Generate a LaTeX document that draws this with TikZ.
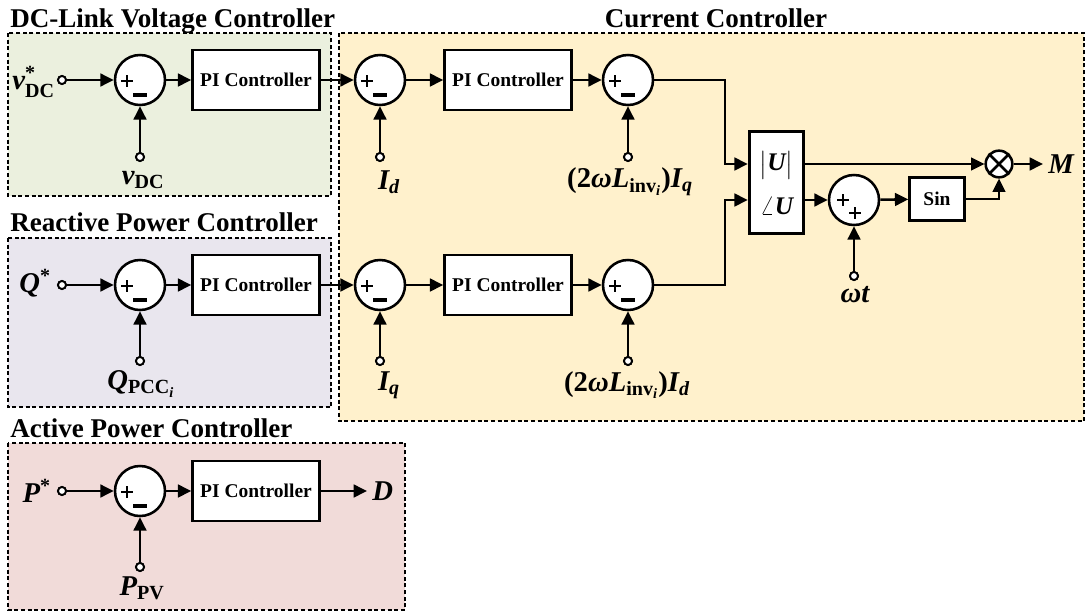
\documentclass[tikz,border=0pt]{standalone}
\usepackage{fontspec}
\usepackage{amsmath}
\setmainfont{Liberation Serif}
\usetikzlibrary{arrows.meta}
\definecolor{cgreen}{RGB}{235,240,222}
\definecolor{cyellow}{RGB}{255,241,204}
\definecolor{cpurple}{RGB}{233,230,238}
\definecolor{cred}{RGB}{241,219,217}
\tikzset{
  sumc/.style={circle, draw, line width=1.9pt, fill=white, minimum size=37.5pt, inner sep=0pt},
  pibox/.style={draw, line width=2.1pt, fill=white, minimum width=95pt, minimum height=45pt, inner sep=0pt, font=\fontsize{14.6}{16}\selectfont\bfseries},
  term/.style={circle, draw, line width=1.4pt, fill=white, minimum size=6pt, inner sep=0pt},
  sig/.style={line width=1.9pt, -{Triangle[length=10pt,width=9.5pt]}},
  lbl/.style={inner sep=0pt, font=\fontsize{21.5}{23}\selectfont\bfseries\itshape},
  ttl/.style={inner sep=0pt, font=\fontsize{20.3}{22}\selectfont\bfseries},
  area/.style={line width=0.8pt, dash pattern=on 3pt off 2pt},
  sgn/.style={line width=1pt},
  msgn/.style={line width=2.3pt},
}
\newcommand{\plmi}[1]{%
  \draw[sgn] ([shift={(-19,1)}]#1.center) -- ([shift={(-7,1)}]#1.center);
  \draw[sgn] ([shift={(-13,-5)}]#1.center) -- ([shift={(-13,7)}]#1.center);
  \draw[msgn] ([shift={(-7,15)}]#1.center) -- ([shift={(7,15)}]#1.center);
}
\begin{document}
\begin{tikzpicture}[x=0.75pt,y=-0.75pt]
\useasboundingbox (0,0) rectangle (1085,614);
% areas
\draw[area, fill=cgreen] (8,33) rectangle (331,196);
\draw[area, fill=cyellow] (339,33) rectangle (1084,421);
\draw[area, fill=cpurple] (8,238) rectangle (331,407);
\draw[area, fill=cred] (8,443) rectangle (405,610);
% titles
\node[ttl, anchor=base west] (t1) at (10,27) {DC-Link Voltage Controller};
\node[ttl, anchor=base] (t2) at (716,27) {Current Controller};
\node[ttl, anchor=base west] (t3) at (10,231) {Reactive Power Controller};
\node[ttl, anchor=base west] (t4) at (10,437) {Active Power Controller};
% row A
\node[sumc] (sA) at (140,80) {};
\node[pibox] (piA) at (256,80) {PI Controller};
\node[sumc] (sB) at (380,80) {};
\node[pibox] (piB) at (508,80) {PI Controller};
\node[sumc] (sC) at (628,80) {};
\node[term] (inA) at (62,80) {};
\node[term] (fbA) at (140,157) {};
\node[term] (fbB) at (380,157) {};
\node[term] (fbC) at (628,157) {};
% row B
\node[sumc] (sD) at (140,285) {};
\node[pibox] (piD) at (256,285) {PI Controller};
\node[sumc] (sE) at (380,285) {};
\node[pibox] (piE) at (508,285) {PI Controller};
\node[sumc] (sF) at (628,285) {};
\node[term] (inB) at (62,285) {};
\node[term] (fbD) at (140,361) {};
\node[term] (fbE) at (380,361) {};
\node[term] (fbF) at (628,361) {};
% row C
\node[sumc] (sG) at (140,491) {};
\node[pibox] (piG) at (256,491) {PI Controller};
\node[term] (inC) at (62,491) {};
\node[term] (fbG) at (140,567) {};
\coordinate (Dend) at (367,491);
% right part
\node[draw, line width=2.1pt, fill=white, minimum width=41pt, minimum height=76pt, inner sep=0pt] (U) at (776.5,182.5) {};
\node[inner sep=0pt, font=\fontsize{19}{20}\selectfont] (Umag) at (776.5,165) {$\big|\text{\bfseries\itshape U}\big|$};
\node[inner sep=0pt, font=\fontsize{19}{20}\selectfont] (Uang) at (776.5,206) {$\angle\text{\bfseries\itshape U}$};
\coordinate (jA) at (725,164);
\coordinate (jB) at (725,200);
\node[sumc] (sH) at (854,200) {};
\node[term] (fbH) at (854,276) {};
\node[draw, line width=2.1pt, fill=white, minimum width=41pt, minimum height=32pt, inner sep=0pt, font=\fontsize{14.6}{16}\selectfont\bfseries] (sinb) at (937,199) {Sin};
\node[circle, draw, line width=1.9pt, fill=white, minimum size=20pt, inner sep=0pt] (mul) at (999,164) {};
\draw[line width=1.9pt] (mul.north east) -- (mul.south west) (mul.north west) -- (mul.south east);
\coordinate (Mend) at (1043,164);
% signs
\plmi{sA}\plmi{sB}\plmi{sC}\plmi{sD}\plmi{sE}\plmi{sF}\plmi{sG}
\draw[sgn] ([shift={(-17,0)}]sH.center) -- ([shift={(-5,0)}]sH.center);
\draw[sgn] ([shift={(-11,-6)}]sH.center) -- ([shift={(-11,6)}]sH.center);
\draw[line width=1.3pt] ([shift={(-5,13)}]sH.center) -- ([shift={(7,13)}]sH.center);
\draw[line width=1.3pt] ([shift={(1,7)}]sH.center) -- ([shift={(1,19)}]sH.center);
% connectors
\draw[sig] (inA) -- (sA);
\draw[sig] (sA) -- (piA);
\draw[sig] (piA) -- (sB);
\draw[sig] (sB) -- (piB);
\draw[sig] (piB) -- (sC);
\draw[sig] (fbA) -- (sA);
\draw[sig] (fbB) -- (sB);
\draw[sig] (fbC) -- (sC);
\draw[sig] (inB) -- (sD);
\draw[sig] (sD) -- (piD);
\draw[sig] (piD) -- (sE);
\draw[sig] (sE) -- (piE);
\draw[sig] (piE) -- (sF);
\draw[sig] (fbD) -- (sD);
\draw[sig] (fbE) -- (sE);
\draw[sig] (fbF) -- (sF);
\draw[sig] (inC) -- (sG);
\draw[sig] (sG) -- (piG);
\draw[sig] (fbG) -- (sG);
\draw[sig] (piG) -- (Dend);
\draw[sig] (sC.east) -| (jA) -- (jA -| U.west);
\draw[sig] (sF.east) -| (jB) -- (jB -| U.west);
\draw[sig] (jA -| U.east) -- (mul.west);
\draw[sig] (jB -| U.east) -- (sH.west);
\draw[sig] (sH) -- (sinb);
\draw[sig] (sinb.east) -| (mul.south);
\draw[sig] (fbH) -- (sH);
\draw[sig] (mul) -- (Mend);
% redraw terminals on top
\foreach \t in {inA,fbA,fbB,fbC,inB,fbD,fbE,fbF,inC,fbG,fbH}
  \draw[line width=1.4pt, fill=white] (\t) circle[radius=4];
% labels
\node[lbl, anchor=east] (lvs) at (55,82) {v$^{\text{\upshape *}}_{\text{\upshape DC}}$};
\node[lbl] (lv) at (143,180) {v$_{\text{\upshape DC}}$};
\node[lbl, anchor=east] (lqs) at (51,283) {Q$^{\text{\upshape *}}$};
\node[lbl] (lq) at (141,384) {Q$_{\text{\upshape PCC}_{\text{i}}}$};
\node[lbl, anchor=east] (lps) at (51,491) {P$^{\text{\upshape *}}$};
\node[lbl] (lp) at (142,588) {P$_{\text{\upshape PV}}$};
\node[lbl, anchor=west] (lD) at (372,491) {D};
\node[lbl] (lId) at (389,182) {I$_{\text{d}}$};
\node[lbl] (lIq) at (389,385) {I$_{\text{q}}$};
\node[lbl] (lLq) at (630,182) {\upshape(2\itshape ωL$_{\text{\upshape inv}_{\text{i}}}$\upshape)\itshape I$_{\text{q}}$};
\node[lbl] (lLd) at (627,385) {\upshape(2\itshape ωL$_{\text{\upshape inv}_{\text{i}}}$\upshape)\itshape I$_{\text{d}}$};
\node[lbl] (lwt) at (855,295) {ωt};
\node[lbl, anchor=west] (lM) at (1048,164) {M};
\end{tikzpicture}
\end{document}
